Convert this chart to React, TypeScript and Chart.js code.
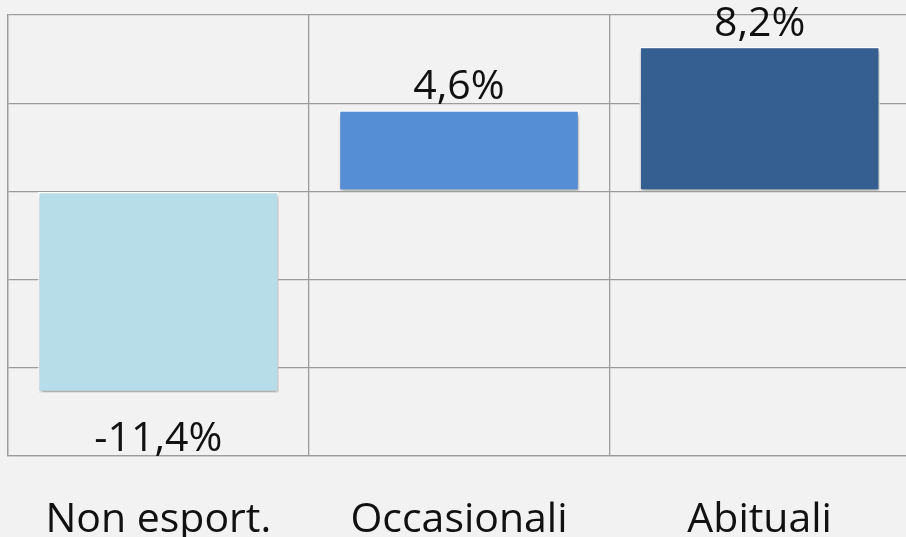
import React, { useEffect, useRef } from "react";
import { Chart, registerables } from "chart.js";

Chart.register(...registerables);

const categories = ["Non esport.", "Occasionali", "Abituali"];
const values = [-11.4, 4.6, 8.2];
const valueLabels = ["-11,4%", "4,6%", "8,2%"];
const barColors = ["#B7DDE8", "#558ED5", "#365F91"];
const yTicks = [-15, -10, -5, 0, 5, 10];

const FONT = "'Open Sans', 'Noto Sans', sans-serif";

const shadowPlugin = {
  id: "barShadow",
  beforeDatasetsDraw(chart: any) {
    const ctx = chart.ctx;
    ctx.save();
    ctx.shadowColor = "rgba(0,0,0,0.35)";
    ctx.shadowBlur = 4;
    ctx.shadowOffsetX = 1;
    ctx.shadowOffsetY = 3;
  },
  afterDatasetsDraw(chart: any) {
    const ctx = chart.ctx;
    ctx.restore();
    const meta = chart.getDatasetMeta(0);
    ctx.save();
    ctx.font = `41px ${FONT}`;
    ctx.fillStyle = "#111";
    ctx.textAlign = "center";
    ctx.textBaseline = "alphabetic";
    meta.data.forEach((bar: any, i: number) => {
      const v = values[i];
      const y = v >= 0 ? bar.y - 11 : bar.y + 59;
      ctx.fillText(valueLabels[i], bar.x, y);
    });
    ctx.restore();
  },
};

export default function App() {
  const ref = useRef<HTMLCanvasElement>(null);
  useEffect(() => {
    if (!ref.current) return;
    const chart = new Chart(ref.current, {
      type: "bar",
      data: {
        labels: categories,
        datasets: [
          {
            data: values,
            backgroundColor: barColors,
            borderColor: "#ffffff",
            borderWidth: 1.5,
            borderSkipped: false,
            barPercentage: 0.8,
            categoryPercentage: 1.0,
          },
        ],
      },
      options: {
        animation: false,
        responsive: true,
        maintainAspectRatio: false,
        layout: { padding: { left: 8, top: 15, right: 3, bottom: 0 } },
        plugins: { legend: { display: false }, tooltip: { enabled: false } },
        scales: {
          x: {
            grid: { color: "#9c9c9c", lineWidth: 1.3, drawTicks: false, offset: true },
            border: { display: true, color: "#9c9c9c", width: 1.3 },
            ticks: {
              color: "#111",
              font: { family: FONT, size: 41 },
              padding: 40,
              maxRotation: 0,
            },
          },
          y: {
            min: -15,
            max: 10,
            afterBuildTicks(scale: any) {
              scale.ticks = yTicks.map((v) => ({ value: v }));
            },
            grid: { color: "#9c9c9c", lineWidth: 1.3, drawTicks: false },
            border: { display: true, color: "#9c9c9c", width: 1.3 },
            ticks: { display: false },
          },
        },
      },
      plugins: [shadowPlugin],
    });
    return () => chart.destroy();
  }, []);

  return (
    <div
      style={{
        position: "fixed",
        left: 0,
        top: 0,
        width: 906,
        height: 537,
        overflow: "hidden",
        background: "#F2F2F2",
      }}
    >
      <div style={{ position: "relative", width: 913, height: 585 }}>
        <canvas ref={ref} />
      </div>
    </div>
  );
}
